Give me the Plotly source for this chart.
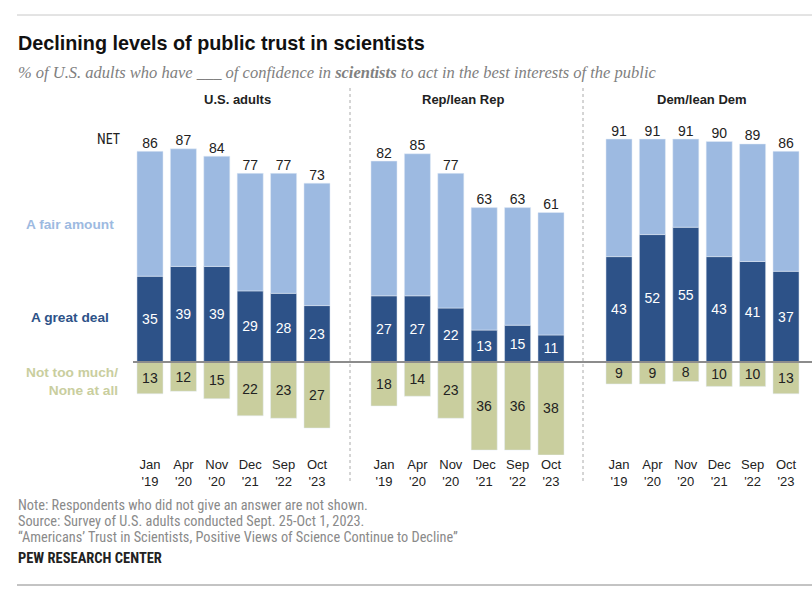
import plotly.graph_objects as go

# ---- data ----
periods = ["Jan<br>'19", "Apr<br>'20", "Nov<br>'20", "Dec<br>'21", "Sep<br>'22", "Oct<br>'23"]
groups = ["U.S. adults", "Rep/lean Rep", "Dem/lean Dem"]

net_us = [86, 87, 84, 77, 77, 73]
great_us = [35, 39, 39, 29, 28, 23]
low_us = [13, 12, 15, 22, 23, 27]

net_rep = [82, 85, 77, 63, 63, 61]
great_rep = [27, 27, 22, 13, 15, 11]
low_rep = [18, 14, 23, 36, 36, 38]

net_dem = [91, 91, 91, 90, 89, 86]
great_dem = [43, 52, 55, 43, 41, 37]
low_dem = [9, 9, 8, 10, 10, 13]

panels = [(net_us, great_us, low_us), (net_rep, great_rep, low_rep), (net_dem, great_dem, low_dem)]

# ---- styling ----
W, H = 812, 596
DARK = "#2d5288"
LIGHT = "#9dbae1"
KHAKI = "#c9ce9e"
NARROW = "Liberation Sans Narrow, Roboto Condensed, DejaVu Sans Condensed, Arial Narrow, sans-serif"
SANS = "Liberation Sans, Arial, sans-serif"
SERIF = "Liberation Serif, Georgia, serif"

def px(x):
    return x / W

def py(y):
    return 1 - y / H

fig = go.Figure()
xs = list(range(len(periods)))
axis_names = ["x", "x2", "x3"]
domains = [(133.3, 333.7), (367.3, 567.7), (602.3, 802.7)]

for i, (net, great, low) in enumerate(panels):
    ax = axis_names[i]
    fair = [n - g for n, g in zip(net, great)]
    fig.add_trace(go.Bar(x=xs, y=great, xaxis=ax, yaxis="y", marker_color=DARK,
                         text=[str(v) for v in great], textposition="inside",
                         insidetextanchor="middle", textangle=0,
                         textfont=dict(color="white", size=14, family=SANS),
                         hoverinfo="skip", showlegend=False))
    fig.add_trace(go.Bar(x=xs, y=fair, xaxis=ax, yaxis="y", marker_color=LIGHT,
                         hoverinfo="skip", showlegend=False))
    fig.add_trace(go.Bar(x=xs, y=[-v for v in low], xaxis=ax, yaxis="y", marker_color=KHAKI,
                         text=[str(v) for v in low], textposition="inside",
                         insidetextanchor="middle", textangle=0,
                         textfont=dict(color="#222222", size=14, family=SANS),
                         hoverinfo="skip", showlegend=False))
    fig.add_trace(go.Scatter(x=xs, y=net, xaxis=ax, yaxis="y", mode="text",
                             text=[str(v) for v in net], textposition="top center",
                             textfont=dict(color="#222222", size=14, family=SANS),
                             hoverinfo="skip", showlegend=False))

layout_axes = {}
for i, ax in enumerate(axis_names):
    key = "xaxis" if i == 0 else f"xaxis{i+1}"
    d0, d1 = domains[i]
    layout_axes[key] = dict(domain=[px(d0), px(d1)], range=[-0.5, 5.5], anchor="y",
                            tickvals=xs, ticktext=periods, showgrid=False, zeroline=False,
                            showline=False, ticks="", fixedrange=True,
                            tickfont=dict(family=SANS, size=13, color="#222222"))

fig.update_layout(
    width=W, height=H,
    margin=dict(l=0, r=0, t=0, b=0),
    paper_bgcolor="white", plot_bgcolor="rgba(0,0,0,0)",
    barmode="relative", bargap=0.22,
    uniformtext=dict(minsize=14, mode="show"),
    yaxis=dict(domain=[py(455), py(117)], range=[-38, 100], visible=False, fixedrange=True),
    **layout_axes,
)

shapes = [
    dict(type="line", xref="paper", yref="paper", x0=px(17), x1=1, y0=py(15), y1=py(15),
         line=dict(color="#c8c8c8", width=1)),
    dict(type="line", xref="paper", yref="paper", x0=px(17), x1=1, y0=py(585), y1=py(585),
         line=dict(color="#888888", width=1)),
    dict(type="line", xref="paper", yref="y", x0=px(133), x1=1, y0=0, y1=0,
         line=dict(color="#8c8c8c", width=2)),
    dict(type="line", xref="paper", yref="paper", x0=px(350), x1=px(350), y0=py(88), y1=py(482),
         line=dict(color="#aaaaaa", width=1, dash="dot")),
    dict(type="line", xref="paper", yref="paper", x0=px(583), x1=px(583), y0=py(88), y1=py(482),
         line=dict(color="#aaaaaa", width=1, dash="dot")),
]
fig.update_layout(shapes=shapes)

ann = []
def add(text, x, y, size, color, family, xanchor="left", yanchor="middle", align="left"):
    ann.append(dict(text=text, x=px(x), y=py(y), xref="paper", yref="paper", showarrow=False,
                    xanchor=xanchor, yanchor=yanchor, align=align,
                    font=dict(size=size, color=color, family=family)))

add("<b>Declining levels of public trust in scientists</b>", 16, 43, 19.8, "#111111", SANS)
add("<i>% of U.S. adults who have ___ of confidence in <b>scientists</b> to act in the best interests of the public</i>",
    16, 72, 16.5, "#808080", SERIF)
centers = [237, 463, 702]
for g, c in zip(groups, centers):
    add(f"<b>{g}</b>", c, 100, 13, "#222222", SANS, xanchor="center")
add("NET", 122, 139, 14, "#222222", NARROW, xanchor="right")
add("<b>A fair amount</b>", 116, 225, 13.7, LIGHT, SANS, xanchor="right", align="right")
add("<b>A great deal</b>", 111, 317, 13.7, DARK, SANS, xanchor="right", align="right")
add("<b>Not too much/<br>None at all</b>", 120, 381, 13.7, KHAKI, SANS, xanchor="right", align="right")
add("Note: Respondents who did not give an answer are not shown.", 16, 505, 14.3, "#8a8a8a", NARROW)
add("Source: Survey of U.S. adults conducted Sept. 25-Oct 1, 2023.", 16, 521, 14.3, "#8a8a8a", NARROW)
add("\u201cAmericans\u2019 Trust in Scientists, Positive Views of Science Continue to Decline\u201d", 16, 537, 14.3, "#8a8a8a", NARROW)
add("<b>PEW RESEARCH CENTER</b>", 16, 558, 14.5, "#222222", NARROW)
fig.update_layout(annotations=ann)

fig.write_html("out.html", config={"displayModeBar": False},
               post_script="document.body.style.margin='0';document.body.style.overflow='hidden';")
